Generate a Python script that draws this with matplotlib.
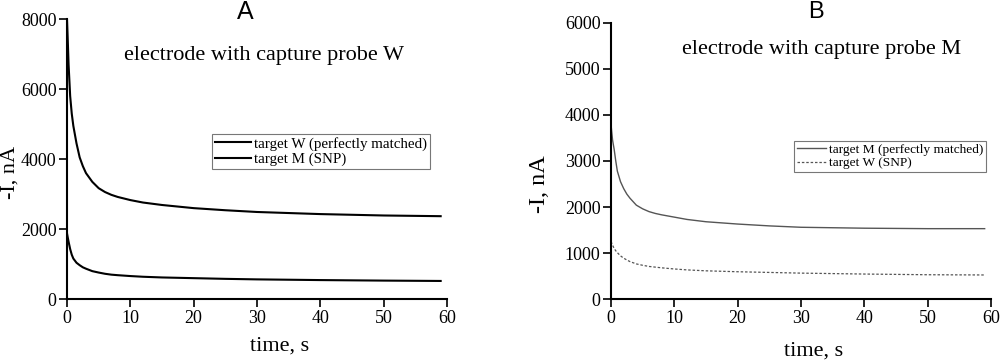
import numpy as np
import matplotlib.pyplot as plt

plt.rcParams['font.family'] = ['Liberation Serif', 'DejaVu Serif']

# time points, s
t = [0, 0.1, 0.25, 0.5, 0.75, 1, 1.5, 2, 2.5, 3, 4, 5, 6, 7, 8, 10, 12, 15,
     20, 25, 30, 35, 40, 50, 59]

# panel A: electrode with capture probe W
a_target_w = [8000, 7500, 6700, 5800, 5300, 4950, 4450, 4050, 3800, 3600, 3350,
              3170, 3060, 2980, 2920, 2830, 2760, 2690, 2600, 2540, 2490, 2460,
              2430, 2390, 2370]
a_target_m = [1880, 1780, 1640, 1430, 1270, 1160, 1040, 970, 910, 870, 800, 760,
              725, 700, 685, 660, 640, 620, 600, 580, 565, 555, 545, 530, 520]

# panel B: electrode with capture probe M
b_target_m = [3800, 3650, 3450, 3250, 3000, 2780, 2550, 2400, 2280, 2190, 2040,
              1960, 1900, 1860, 1830, 1780, 1730, 1680, 1630, 1590, 1560, 1550,
              1540, 1530, 1530]
b_target_w = [1250, 1220, 1170, 1100, 1050, 1010, 940, 890, 850, 815, 765, 735,
              710, 695, 680, 655, 635, 615, 595, 580, 565, 555, 545, 530, 525]

fig = plt.figure(figsize=(10, 3.6), dpi=100)
ax1 = fig.add_axes([0.067, 0.169, 0.38, 0.778])
ax2 = fig.add_axes([0.611, 0.169, 0.38, 0.768])


def style(ax, ymax, ystep, ylab_xy, labsize, xlab_xy):
    for s in ['top', 'right']:
        ax.spines[s].set_visible(False)
    for s in ['left', 'bottom']:
        ax.spines[s].set_linewidth(1.5)
    ax.set_xlim(0, 60)
    ax.set_ylim(0, ymax)
    ax.set_xticks(range(0, 61, 10))
    ax.set_yticks(range(0, ymax + 1, ystep))
    ax.tick_params(direction='out', length=6, width=1.2, labelsize=13, pad=1.5)
    ax.set_xlabel('time, s', fontsize=16)
    ax.xaxis.set_label_coords(*xlab_xy)
    ax.set_ylabel('-I, nA', fontsize=labsize)
    ax.yaxis.set_label_coords(*ylab_xy)


ax1.plot(t, a_target_w, color='black', lw=1.5, label='target W (perfectly matched)')
ax1.plot(t, a_target_m, color='black', lw=1.5, label='target M (SNP)')
style(ax1, 8000, 2000, (-0.124, 0.454), 16, (0.56, -0.135))
ax1.text(0.47, 1.025, 'A', transform=ax1.transAxes, ha='center', va='center',
         fontsize=18, family='Liberation Sans')
ax1.text(0.518, 0.871, 'electrode with capture probe W', transform=ax1.transAxes,
         ha='center', va='center', fontsize=16)
leg1 = ax1.legend(loc='upper left', bbox_to_anchor=(0.382, 0.59), fontsize=10.8,
                  frameon=True, fancybox=False, borderpad=0.2, handlelength=2.4,
                  handletextpad=0.2, labelspacing=0.1, borderaxespad=0)
leg1.get_frame().set_edgecolor('#555555')
leg1.get_frame().set_linewidth(0.8)

ax2.plot(t, b_target_m, color='#555555', lw=1.0, label='target M (perfectly matched)')
ax2.plot(t, b_target_w, color='#555555', lw=0.9, ls=(0, (2, 1.5)), label='target W (SNP)')
style(ax2, 6000, 1000, (-0.16, 0.417), 17.5, (0.534, -0.155))
ax2.text(0.54, 1.04, 'B', transform=ax2.transAxes, ha='center', va='center',
         fontsize=17, family='Liberation Sans')
ax2.text(0.555, 0.902, 'electrode with capture probe M', transform=ax2.transAxes,
         ha='center', va='center', fontsize=16)
leg2 = ax2.legend(loc='upper left', bbox_to_anchor=(0.482, 0.573), fontsize=9.6,
                  frameon=True, fancybox=False, borderpad=0.2, handlelength=2.2,
                  handletextpad=0.2, labelspacing=0.1, borderaxespad=0)
leg2.get_frame().set_edgecolor('#555555')
leg2.get_frame().set_linewidth(0.8)

fig.savefig('out.png', dpi=100)
